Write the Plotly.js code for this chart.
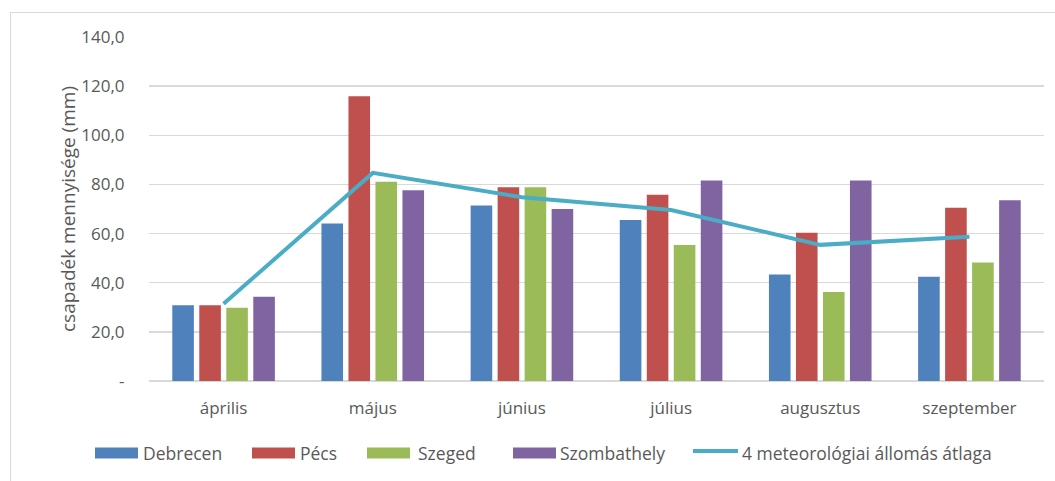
<!DOCTYPE html>
<html>
<head>
<meta charset="utf-8">
<script src="https://cdn.plot.ly/plotly-3.0.1.min.js"></script>
<style>
  html, body { margin: 0; padding: 0; background: #fff; overflow: hidden; }
  #chart { width: 1055px; height: 481px; }
  #frame { position: absolute; left: 10px; top: 12px; width: 1200px; height: 600px;
           border: 1px solid #d9d9d9; pointer-events: none; }
</style>
</head>
<body>
<div id="chart"></div>
<div id="frame"></div>
<script>
const months = ["április", "május", "június", "július", "augusztus", "szeptember"];
const debrecen = [30.8, 64.1, 71.4, 65.5, 43.3, 42.4];
const pecs = [30.8, 115.9, 78.9, 75.8, 60.3, 70.5];
const szeged = [29.8, 81.1, 78.9, 55.3, 36.2, 48.2];
const szombathely = [34.3, 77.6, 70.0, 81.6, 81.6, 73.6];
const atlag = [31.4, 84.7, 74.8, 69.6, 55.4, 58.7];
const yTickVals = [0, 20, 40, 60, 80, 100, 120, 140];
const yTickText = ["-", "20,0", "40,0", "60,0", "80,0", "100,0", "120,0", "140,0"];

const seriesNames = ["Debrecen", "Pécs", "Szeged", "Szombathely"];
const seriesValues = [debrecen, pecs, szeged, szombathely];
const seriesColors = ["#4F81BD", "#C0504D", "#9BBB59", "#8064A2"];
const lineName = "4 meteorológiai állomás átlaga";
const lineColor = "#4BACC6";

const traces = seriesNames.map((n, i) => ({
  type: "bar",
  name: n,
  x: months,
  y: seriesValues[i],
  marker: { color: seriesColors[i], line: { width: 0 } }
}));
traces.push({
  type: "scatter",
  mode: "lines",
  name: lineName,
  x: months,
  y: atlag,
  line: { color: lineColor, width: 4 }
});

const font = { family: "Open Sans, sans-serif", size: 17, color: "#595959" };
const legendFont = { family: "Open Sans, sans-serif", size: 17.5, color: "#595959" };

// ---- plot-area geometry (pixels) used to place the hand-made legend ----
const W = 1055, H = 481, ML = 149, MR = 11, MT = 37, MB = 100;
const PW = W - ML - MR, PH = H - MT - MB;
const px = x => (x - ML) / PW;
const py = y => (H - MB - y) / PH;

// legend layout: symbol start, text start (pixels)
const legSymX = [95, 252, 367, 513, 693];
const legTxtX = [141, 298, 416, 558, 740];
const legY = 453;

const shapes = [];
const annotations = [];
seriesNames.forEach((n, i) => {
  shapes.push({
    type: "rect", xref: "paper", yref: "paper",
    x0: px(legSymX[i]), x1: px(legSymX[i] + 43),
    y0: py(legY - 5.5), y1: py(legY + 5.5),
    fillcolor: seriesColors[i], line: { width: 0 }
  });
  annotations.push({
    xref: "paper", yref: "paper", x: px(legTxtX[i]), y: py(legY),
    xanchor: "left", yanchor: "middle", showarrow: false,
    text: n, font: legendFont
  });
});
shapes.push({
  type: "line", xref: "paper", yref: "paper",
  x0: px(legSymX[4]), x1: px(legSymX[4] + 45),
  y0: py(legY - 2), y1: py(legY - 2),
  line: { color: lineColor, width: 4 }
});
annotations.push({
  xref: "paper", yref: "paper", x: px(legTxtX[4]), y: py(legY),
  xanchor: "left", yanchor: "middle", showarrow: false,
  text: lineName, font: legendFont
});

const layout = {
  width: W, height: H,
  margin: { l: ML, r: MR, t: MT, b: MB },
  paper_bgcolor: "#ffffff",
  plot_bgcolor: "#ffffff",
  font: font,
  barmode: "group",
  bargap: 0.276,
  bargroupgap: 0.2,
  showlegend: false,
  shapes: shapes,
  annotations: annotations,
  xaxis: {
    type: "category",
    showgrid: false,
    zeroline: false,
    showline: false,
    ticks: "outside", ticklen: 12, tickcolor: "rgba(0,0,0,0)",
    tickfont: font
  },
  yaxis: {
    range: [0, 140],
    tickvals: yTickVals,
    ticktext: yTickText,
    showgrid: true,
    gridcolor: "#D9D9D9",
    gridwidth: 1.5,
    zeroline: true,
    zerolinecolor: "#D9D9D9",
    zerolinewidth: 1.5,
    showline: false,
    ticks: "outside", ticklen: 20, tickcolor: "rgba(0,0,0,0)",
    tickfont: font,
    title: { text: "csapadék mennyisége (mm)", font: { family: "Open Sans, sans-serif", size: 19, color: "#595959" }, standoff: 0 }
  }
};

Plotly.newPlot("chart", traces, layout, { displayModeBar: false, staticPlot: true });
</script>
</body>
</html>
